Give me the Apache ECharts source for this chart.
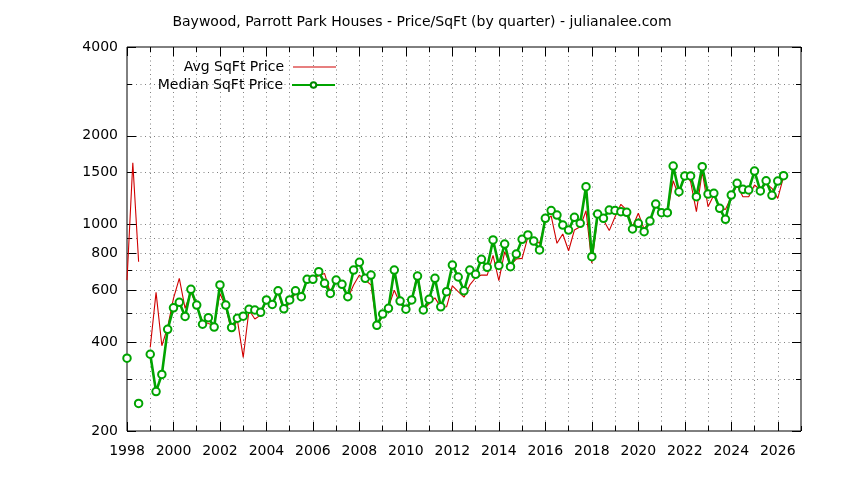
<!DOCTYPE html>
<html>
<head>
<meta charset="utf-8">
<script src="https://cdn.jsdelivr.net/npm/echarts@6/dist/echarts.min.js"></script>
<style>
html,body{margin:0;padding:0;background:#fff;}
#chart{width:844px;height:480px;}
</style>
</head>
<body>
<div id="chart"></div>
<script>
// ---- data (quarterly, starting 1998 Q1) ----
const startYear = 1998;
const avgPrice = [
  649, 1622, 749, null,
  384, 590, 389, 450,
  563, 658, 521, 593,
  527, 472, 463, 455,
  585, 527, 434, 475,
  355, 514, 479, 494,
  556, 534, 593, 503,
  548, 585, 581, 649,
  658, 671, 684, 588,
  653, 633, 563, 625,
  675, 649, 625, 456,
  488, 525, 600, 541,
  514, 548, 693, 511,
  541, 565, 525, 527,
  621, 593, 568, 625,
  661, 675, 675, 787,
  646, 810, 730, 765,
  769, 910, 888, 865,
  1025, 1072, 865, 930,
  816, 959, 984, 1115,
  740, 1064, 1037, 955,
  1064, 1172, 1121, 984,
  1093, 965, 1037, 1166,
  1107, 1098, 1409, 1244,
  1512, 1398, 1107, 1512,
  1151, 1260, 1136, 1127,
  1244, 1363, 1244, 1244,
  1363, 1311, 1381, 1328,
  1228, 1454
];
const medianPrice = [
  353, null, 248, null,
  364, 272, 311, 442,
  523, 546, 489, 604,
  534, 460, 484, 450,
  625, 534, 448, 482,
  490, 517, 514, 505,
  556, 537, 597, 519,
  556, 597, 570, 653,
  653, 693, 633, 585,
  649, 628, 570, 702,
  746, 658, 675, 456,
  498, 521, 702, 551,
  517, 556, 670, 514,
  559, 658, 527, 593,
  730, 665, 597, 702,
  679, 763, 717, 888,
  728, 860, 721, 795,
  892, 923, 880, 821,
  1051, 1117, 1078, 997,
  959, 1059, 1011, 1345,
  779, 1087, 1051, 1121,
  1117, 1107, 1101, 967,
  1011, 947, 1029, 1175,
  1098, 1098, 1580, 1293,
  1462, 1462, 1244, 1572,
  1270, 1277, 1136, 1043,
  1260, 1381, 1318, 1311,
  1520, 1301, 1409, 1258,
  1406, 1466
];
const yMajorTicks = [200, 400, 600, 800, 1000, 1500, 2000, 4000];
const yMinorTicks = [300, 500, 700, 900, 3000];
const xMajorTicks = [1998,2000,2002,2004,2006,2008,2010,2012,2014,2016,2018,2020,2022,2024,2026];
const xMinorTicks = [1999,2001,2003,2005,2007,2009,2011,2013,2015,2017,2019,2021,2023,2025,2027];
const xMin = 1998, xMax = 2027, yMin = 200, yMax = 4000;
const seriesNames = ['Avg SqFt Price', 'Median SqFt Price'];
const titleText = 'Baywood, Parrott Park Houses - Price/SqFt (by quarter) - julianalee.com';

// ---- build ----
const FONT = 'DejaVu Sans';
const FS = 14;
const RED = '#d00000', GREEN = '#00a400';
const L = v => Math.log10(v);
const toPts = arr => arr.map((v, i) => [startYear + i * 0.25, v == null ? '-' : L(v)]);

const gridLine = { show: true, lineStyle: { color: '#808080', width: 1, type: [1, 3.5] } };

function yAxisDef(pos, ticks, len, labels, split) {
  return {
    type: 'value', position: pos, min: L(yMin), max: L(yMax),
    axisLine: { show: false },
    axisTick: { show: true, inside: true, length: len, customValues: ticks.map(L),
                lineStyle: { color: '#000', width: 1 } },
    axisLabel: labels ? {
      show: true, customValues: yMajorTicks.map(L), margin: 9,
      formatter: v => String(Math.round(Math.pow(10, v))),
      color: '#000', fontFamily: FONT, fontSize: FS
    } : { show: false },
    splitLine: split ? gridLine : { show: false }
  };
}
function xAxisDef(pos, ticks, len, labels, split) {
  return {
    type: 'value', position: pos, min: xMin, max: xMax,
    axisLine: { show: false },
    axisTick: { show: true, inside: true, length: len, customValues: ticks,
                lineStyle: { color: '#000', width: 1 } },
    axisLabel: labels ? {
      show: true, customValues: xMajorTicks, margin: 13,
      formatter: v => String(v),
      color: '#000', fontFamily: FONT, fontSize: FS
    } : { show: false },
    splitLine: split ? gridLine : { show: false }
  };
}

const chart = echarts.init(document.getElementById('chart'), null, { renderer: 'canvas' });
chart.setOption({
  animation: false,
  backgroundColor: '#fff',
  title: {
    text: titleText, left: 'center', top: 10,
    textStyle: { fontFamily: FONT, fontSize: FS, fontWeight: 'normal', color: '#000' }
  },
  grid: { left: 127, right: 43, top: 47, bottom: 49, show: true,
          borderColor: '#000', borderWidth: 1, backgroundColor: 'transparent' },
  legend: [
    { data: [{ name: seriesNames[0], icon: 'rect' }], right: 508, top: 60, padding: 0, align: 'right',
      itemWidth: 43, itemHeight: 1.2,
      itemStyle: { color: RED },
      textStyle: { fontFamily: FONT, fontSize: FS, color: '#000', padding: [0, 4, 0, 0] } },
    { data: [seriesNames[1]], right: 508, top: 78, padding: 0, align: 'right',
      itemWidth: 43, itemHeight: 7,
      itemStyle: { color: '#008800', borderColor: GREEN, borderWidth: 1 },
      textStyle: { fontFamily: FONT, fontSize: FS, color: '#000', padding: [0, 4, 0, 0] } }
  ],
  xAxis: [
    xAxisDef('bottom', xMajorTicks, 9, true, true),
    xAxisDef('bottom', xMinorTicks, 5, false, true),
    xAxisDef('top', xMajorTicks, 9, false, false),
    xAxisDef('top', xMinorTicks, 5, false, false)
  ],
  yAxis: [
    yAxisDef('left', yMajorTicks, 9, true, true),
    yAxisDef('left', yMinorTicks, 5, false, true),
    yAxisDef('right', yMajorTicks, 9, false, false),
    yAxisDef('right', yMinorTicks, 5, false, false)
  ],
  series: [
    {
      name: seriesNames[0], type: 'line', xAxisIndex: 0, yAxisIndex: 0,
      data: toPts(avgPrice), showSymbol: false, symbol: 'none',
      lineStyle: { color: RED, width: 1.1 }, itemStyle: { color: RED },
      connectNulls: false, z: 3
    },
    {
      name: seriesNames[1], type: 'line', xAxisIndex: 0, yAxisIndex: 0,
      data: toPts(medianPrice), showAllSymbol: true,
      symbol: 'emptyCircle', symbolSize: 7.5,
      lineStyle: { color: GREEN, width: 2.6 },
      itemStyle: { color: GREEN, borderColor: GREEN, borderWidth: 2 },
      connectNulls: false, z: 4
    }
  ]
});
</script>
</body>
</html>
